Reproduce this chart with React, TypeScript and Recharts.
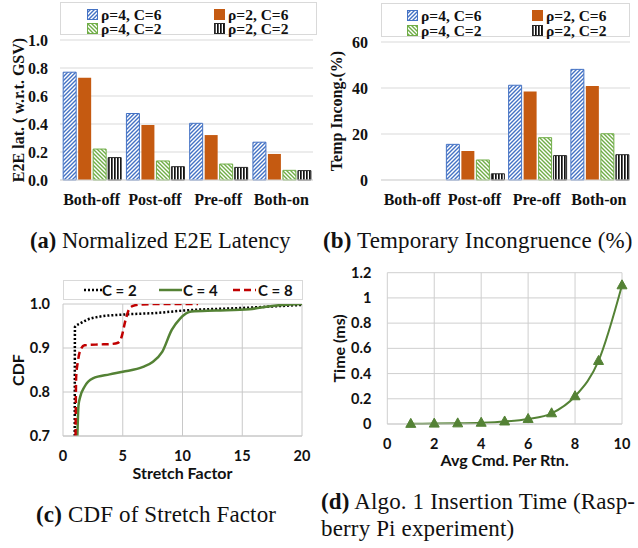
import React from 'react';
import { BarChart, Bar, LineChart, Line, XAxis, YAxis, CartesianGrid } from 'recharts';

// ---------- data ----------
const categories = ['Both-off', 'Post-off', 'Pre-off', 'Both-on'];
const barSeriesNames = ['ρ=4, C=6', 'ρ=2, C=6', 'ρ=4, C=2', 'ρ=2, C=2'];

const latR4C6 = [0.77, 0.475, 0.405, 0.27];
const latR2C6 = [0.73, 0.393, 0.321, 0.186];
const latR4C2 = [0.221, 0.136, 0.114, 0.069];
const latR2C2 = [0.16, 0.095, 0.09, 0.067];
const latencyTicks = [0, 0.2, 0.4, 0.6, 0.8, 1.0];

const incR4C6 = [0, 15.5, 41.2, 48.1];
const incR2C6 = [0, 12.6, 38.5, 40.9];
const incR4C2 = [0, 8.7, 18.4, 20.1];
const incR2C2 = [0, 2.7, 10.6, 11.0];
const incongTicks = [0, 20, 40, 60];

const cdfNames = ['C = 2', 'C = 4', 'C = 8'];
const cdfC2X = [0.98, 1.0, 1.45, 2.0, 3.0, 5.0, 8.0, 10, 15, 20];
const cdfC2Y = [0.7, 0.948, 0.956, 0.964, 0.971, 0.976, 0.98, 0.985, 0.991, 0.998];
const cdfC4X = [1.2, 1.3, 1.45, 1.8, 2.5, 3.9, 5.0, 6.7, 7.5, 8.3, 9.1, 9.8, 10.75, 12.8, 15.6, 17, 18.4, 20];
const cdfC4Y = [0.7, 0.77, 0.79, 0.812, 0.831, 0.84, 0.846, 0.857, 0.868, 0.891, 0.941, 0.967, 0.983, 0.985, 0.988, 0.994, 0.998, 1.0];
const cdfC8X = [1.05, 1.1, 1.25, 1.45, 1.8, 3.0, 4.0, 4.6, 4.9, 5.2, 5.45, 5.8, 6.5, 8, 11.3];
const cdfC8Y = [0.7, 0.834, 0.87, 0.895, 0.906, 0.908, 0.909, 0.912, 0.925, 0.96, 0.983, 0.995, 0.999, 1.0, 1.0];
const cdfXTicks = [0, 5, 10, 15, 20];
const cdfYTicks = [0.7, 0.8, 0.9, 1.0];

const cmdPerRtn = [1, 2, 3, 4, 5, 6, 7, 8, 9, 10];
const insertTimeMs = [0.001, 0.003, 0.005, 0.01, 0.02, 0.04, 0.085, 0.22, 0.5, 1.1];
const timeXTicks = [0, 2, 4, 6, 8, 10];
const timeYTicks = [0, 0.2, 0.4, 0.6, 0.8, 1.0, 1.2];

// ---------- built tables ----------
const latencyData = categories.map((cat, i) => ({ cat, s0: latR4C6[i], s1: latR2C6[i], s2: latR4C2[i], s3: latR2C2[i] }));
const incongData = categories.map((cat, i) => ({ cat, s0: incR4C6[i], s1: incR2C6[i], s2: incR4C2[i], s3: incR2C2[i] }));
const cdfC2 = cdfC2X.map((x, i) => ({ x, y: cdfC2Y[i] }));
const cdfC4 = cdfC4X.map((x, i) => ({ x, y: cdfC4Y[i] }));
const cdfC8 = cdfC8X.map((x, i) => ({ x, y: cdfC8Y[i] }));
const timeData = cmdPerRtn.map((x, i) => ({ x, y: insertTimeMs[i] }));

// ---------- styles ----------
const SERIF = '"Liberation Serif", "Times New Roman", serif';
const SANS = 'Lato, "Noto Sans", sans-serif';
const barStyles = [
  { fill: 'url(#patBlue)', stroke: '#4472C4' },
  { fill: '#C55A11', stroke: 'none' },
  { fill: 'url(#patGreen)', stroke: '#70AD47' },
  { fill: 'url(#patBlack)', stroke: '#262626' },
];
const serifTick = { fontFamily: SERIF, fontSize: 16, fontWeight: 700, fill: '#111' };
const sansTick = { fontFamily: SANS, fontSize: 14.5, fontWeight: 700, fill: '#111' };
const GREEN = '#548235';

const Patterns = () => (
  <svg width={0} height={0} style={{ position: 'absolute' }}>
    <defs>
      <pattern id="patBlue" patternUnits="userSpaceOnUse" width={4} height={4}>
        <rect width={4} height={4} fill="#fff" />
        <path d="M-1,1 l2,-2 M0,4 l4,-4 M3,5 l2,-2" stroke="#4472C4" strokeWidth={1.4} />
      </pattern>
      <pattern id="patGreen" patternUnits="userSpaceOnUse" width={4} height={4}>
        <rect width={4} height={4} fill="#fff" />
        <path d="M-1,3 l2,2 M0,0 l4,4 M3,-1 l2,2" stroke="#70AD47" strokeWidth={1.4} />
      </pattern>
      <pattern id="patBlack" patternUnits="userSpaceOnUse" width={3} height={3}>
        <rect width={3} height={3} fill="#fff" />
        <rect x={0} y={0} width={1.7} height={3} fill="#111" />
      </pattern>
    </defs>
  </svg>
);

const yLabel = (text: string, dx: number, font: string, size: number) => (props: any) => {
  const vb = props.viewBox || { x: 0, y: 0, width: 0, height: 0 };
  const x = vb.x + dx;
  const y = vb.y + vb.height / 2;
  return (
    <text x={x} y={y} transform={`rotate(-90, ${x}, ${y})`} textAnchor="middle" dominantBaseline="central"
      style={{ fontFamily: font, fontSize: size, fontWeight: 700, fill: '#111' }}>{text}</text>
  );
};

const xLabel = (text: string, dy: number) => (props: any) => {
  const vb = props.viewBox || { x: 0, y: 0, width: 0, height: 0 };
  const x = vb.x + vb.width / 2;
  const y = vb.y + dy;
  return (
    <text x={x} y={y} textAnchor="middle" dominantBaseline="central"
      style={{ fontFamily: SANS, fontSize: 16, fontWeight: 700, fill: '#111' }}>{text}</text>
  );
};

type LegendProps = { box: { left: number; top: number; width: number; height: number }; cols: number[]; rows: number[] };
const BarLegend = ({ box, cols, rows }: LegendProps) => (
  <div style={{ position: 'absolute', left: box.left, top: box.top, width: box.width, height: box.height, border: '1px solid #d9d9d9', boxSizing: 'border-box', background: '#fff' }}>
    {barSeriesNames.map((name, i) => {
      const col = cols[i % 2];
      const row = rows[Math.floor(i / 2)];
      return (
        <React.Fragment key={name}>
          <svg style={{ position: 'absolute', left: col, top: row - 5.5 }} width={11} height={11}>
            <rect x={0.5} y={0.5} width={10} height={10} fill={barStyles[i].fill} stroke={barStyles[i].stroke === 'none' ? barStyles[i].fill : barStyles[i].stroke} strokeWidth={1} />
          </svg>
          <span style={{ position: 'absolute', left: col + 14, top: row - 6.5, height: 13, lineHeight: '13px', fontFamily: SERIF, fontSize: 15.5, fontWeight: 700, color: '#111', whiteSpace: 'nowrap' }}>{name}</span>
        </React.Fragment>
      );
    })}
  </div>
);

const cdfStyles = [
  { stroke: '#000', dash: '2 2' },
  { stroke: GREEN, dash: undefined },
  { stroke: '#C00000', dash: '7 4' },
];
const CdfLegend = () => {
  const items = [
    { lx: 83 - 63, tx: 101 - 63 },
    { lx: 158 - 63, tx: 182 - 63 },
    { lx: 232 - 63, tx: 257 - 63 },
  ];
  return (
    <div style={{ position: 'absolute', left: 63, top: 10, width: 240, height: 20, border: '1px solid #d9d9d9', boxSizing: 'border-box', background: '#fff' }}>
      {cdfNames.map((name, i) => (
        <React.Fragment key={name}>
          <svg style={{ position: 'absolute', left: items[i].lx, top: 4 }} width={24} height={10}>
            <line x1={0} y1={5} x2={i === 0 ? 18 : 23} y2={5} stroke={cdfStyles[i].stroke} strokeWidth={2.5} strokeDasharray={cdfStyles[i].dash} />
          </svg>
          <span style={{ position: 'absolute', left: items[i].tx, top: 0, lineHeight: '18px', fontFamily: SANS, fontSize: 15, fontWeight: 700, color: '#111', whiteSpace: 'nowrap' }}>{name}</span>
        </React.Fragment>
      ))}
    </div>
  );
};

const Triangle = (props: any) => {
  const { cx, cy } = props;
  if (cx == null || cy == null) return <g />;
  return <polygon points={`${cx},${cy - 5.5} ${cx - 5},${cy + 3.5} ${cx + 5},${cy + 3.5}`} fill={GREEN} stroke={GREEN} strokeWidth={1} />;
};

const captionStyle: React.CSSProperties = { position: 'absolute', fontFamily: SERIF, fontSize: 23, letterSpacing: 0.15, lineHeight: '27px', color: '#111', whiteSpace: 'nowrap' };

const renderBars = () =>
  ['s0', 's1', 's2', 's3'].map((k, i) => (
    <Bar key={k} dataKey={k} name={barSeriesNames[i]} fill={barStyles[i].fill} stroke={barStyles[i].stroke} strokeWidth={1} isAnimationActive={false} />
  ));

export default function App() {
  return (
    <div style={{ position: 'absolute', left: 0, top: 0, width: 638, height: 548, background: '#fff', overflow: 'hidden' }}>
      <Patterns />

      {/* (a) */}
      <div style={{ position: 'absolute', left: 0, top: 0, width: 320, height: 215 }}>
        <BarChart width={320} height={215} data={latencyData} margin={{ top: 40, right: 7, bottom: 0, left: 0 }} barCategoryGap="5%" barGap={2}>
          <CartesianGrid vertical={false} stroke="#d9d9d9" />
          <XAxis dataKey="cat" height={35} tickLine={false} axisLine={{ stroke: '#d9d9d9' }} tick={serifTick} tickSize={6} tickMargin={8} interval={0} />
          <YAxis width={60} domain={[0, 1]} ticks={latencyTicks} tickFormatter={(v: number) => v.toFixed(1)} axisLine={false} tickLine={false} tick={serifTick} tickSize={6} tickMargin={6}
            label={yLabel('E2E lat. ( w.r.t. GSV)', 18, SERIF, 16)} />
          {renderBars()}
        </BarChart>
        <BarLegend box={{ left: 60, top: 2, width: 257, height: 33 }} cols={[26, 153]} rows={[11, 25.5]} />
      </div>

      {/* (b) */}
      <div style={{ position: 'absolute', left: 318, top: 0, width: 320, height: 215 }}>
        <BarChart width={320} height={215} data={incongData} margin={{ top: 42, right: 8, bottom: 0, left: 0 }} barCategoryGap="5%" barGap={2}>
          <CartesianGrid vertical={false} stroke="#d9d9d9" />
          <XAxis dataKey="cat" height={35} tickLine={false} axisLine={{ stroke: '#d9d9d9' }} tick={serifTick} tickSize={6} tickMargin={8} interval={0} />
          <YAxis width={63} domain={[0, 60]} ticks={incongTicks} axisLine={false} tickLine={false} tick={serifTick} tickSize={6} tickMargin={7}
            label={yLabel('Temp Incong.(%)', 18, SERIF, 16)} />
          {renderBars()}
        </BarChart>
        <BarLegend box={{ left: 63, top: 3, width: 249, height: 34 }} cols={[25, 150]} rows={[11.5, 26]} />
      </div>

      {/* (c) */}
      <div style={{ position: 'absolute', left: 0, top: 270, width: 320, height: 215 }}>
        <LineChart width={320} height={215} margin={{ top: 34, right: 18, bottom: 0, left: 0 }}>
          <CartesianGrid stroke="#c8c8c8" />
          <XAxis type="number" dataKey="x" domain={[0, 20]} ticks={cdfXTicks} allowDataOverflow height={49} tickLine={false} axisLine={{ stroke: '#c8c8c8' }} tick={sansTick} tickSize={6} tickMargin={9}
            label={xLabel('Stretch Factor', 36)} />
          <YAxis type="number" domain={[0.7, 1.0]} ticks={cdfYTicks} allowDataOverflow width={63} tickFormatter={(v: number) => v.toFixed(1)} axisLine={false} tickLine={false} tick={sansTick} tickSize={6} tickMargin={7}
            label={yLabel('CDF', 17.5, SANS, 16)} />
          <Line data={cdfC2} dataKey="y" name={cdfNames[0]} type="monotone" stroke="#000" strokeWidth={2.5} strokeDasharray="2 2" dot={false} isAnimationActive={false} />
          <Line data={cdfC4} dataKey="y" name={cdfNames[1]} type="monotone" stroke={GREEN} strokeWidth={2.5} dot={false} isAnimationActive={false} />
          <Line data={cdfC8} dataKey="y" name={cdfNames[2]} type="monotone" stroke="#C00000" strokeWidth={2.5} strokeDasharray="7 4" dot={false} isAnimationActive={false} />
        </LineChart>
        <CdfLegend />
      </div>

      {/* (d) */}
      <div style={{ position: 'absolute', left: 318, top: 258, width: 320, height: 230 }}>
        <LineChart width={320} height={230} data={timeData} margin={{ top: 14.7, right: 16, bottom: 14, left: 0 }}>
          <CartesianGrid stroke="#cfcfcf" />
          <XAxis type="number" dataKey="x" domain={[0, 10]} ticks={timeXTicks} height={50} tickLine={false} axisLine={{ stroke: '#cfcfcf' }} tick={sansTick} tickSize={6} tickMargin={9}
            label={xLabel('Avg Cmd. Per Rtn.', 35)} />
          <YAxis type="number" domain={[0, 1.2]} ticks={timeYTicks} width={69.3} tickFormatter={(v: number) => String(Number(v.toFixed(1)))} axisLine={false} tickLine={false} tick={sansTick} tickSize={6} tickMargin={10}
            label={yLabel('Time (ms)', 20.5, SANS, 16)} />
          <Line dataKey="y" name="Insertion time" type="monotone" stroke={GREEN} strokeWidth={2} dot={<Triangle />} isAnimationActive={false} />
        </LineChart>
      </div>

      {/* captions */}
      <div style={{ ...captionStyle, left: 30, top: 241 - 13.8, fontSize: 22.5, letterSpacing: 0 }}><b>(a)</b> Normalized E2E Latency</div>
      <div style={{ ...captionStyle, left: 323, top: 241 - 13.8 }}><b>(b)</b> Temporary Incongruence (%)</div>
      <div style={{ ...captionStyle, left: 36, top: 515 - 13.8 }}><b>(c)</b> CDF of Stretch Factor</div>
      <div style={{ ...captionStyle, left: 321, top: 502 - 13.8 }}><b>(d)</b> Algo. 1 Insertion Time (Rasp-<br />berry Pi experiment)</div>
    </div>
  );
}
